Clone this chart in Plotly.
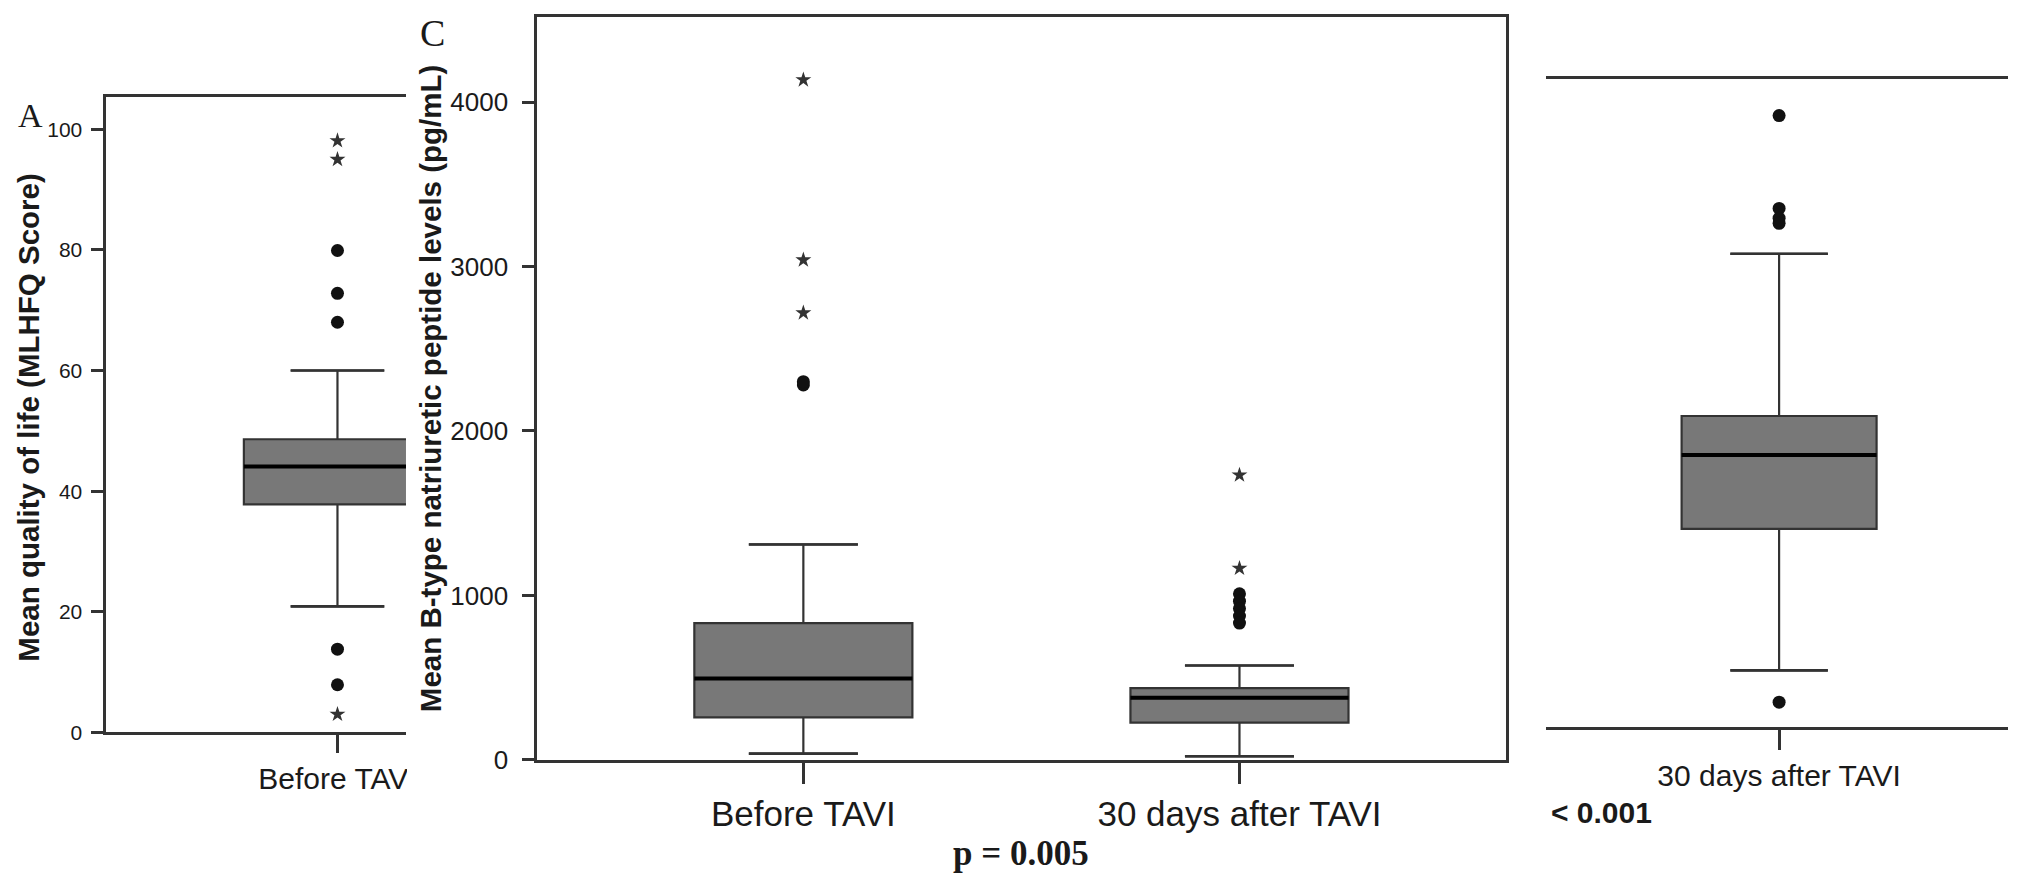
import plotly.graph_objects as go

W, H = 2018, 885

# ---------------- data ----------------
# Panel A: Mean quality of life (MLHFQ score)
a_categories = ["Before TAVI"]
a_q1 = [37.8]
a_median = [44.1]
a_q3 = [48.6]
a_lowerfence = [20.9]
a_upperfence = [60.0]
a_outliers_dot = [[79.9, 72.8, 68.0, 13.8, 7.9]]
a_outliers_star = [[98.1, 95.0, 3.0]]
a_yticks = [0, 20, 40, 60, 80, 100]

# Panel C: Mean B-type natriuretic peptide levels (pg/mL)
c_categories = ["Before TAVI", "30 days after TAVI"]
c_q1 = [258, 227]
c_median = [495, 378]
c_q3 = [832, 436]
c_lowerfence = [38, 22]
c_upperfence = [1310, 574]
c_outliers_dot = [[2280, 2300], [1010, 965, 920, 875, 832]]
c_outliers_star = [[4135, 3040, 2718], [1732, 1165]]
c_yticks = [0, 1000, 2000, 3000, 4000]

# Right (partially visible) panel: 30 days after TAVI, y scale not shown
b_categories = ["30 days after TAVI"]
b_q1 = [30.6]
b_median = [42.0]
b_q3 = [48.0]
b_lowerfence = [8.8]
b_upperfence = [73.0]
b_outliers_dot = [[94.3, 80.0, 78.5, 77.7, 3.9]]
b_outliers_star = [[]]

# ---------------- style ----------------
SANS = "Liberation Sans, Arial, Helvetica, sans-serif"
SERIF = "Liberation Serif, Times New Roman, serif"
LINE = "#333333"
TEXT = "#1a1a1a"
FILL = "#787878"
BOXW = 0.5


def px(x):
    return x / W


def py(y):
    return 1 - y / H


fig = go.Figure()


def add_panel(xa, ya, cats, q1, med, q3, lo, hi, dots, stars):
    for i, _ in enumerate(cats):
        fig.add_trace(go.Box(
            x=[i], q1=[q1[i]], median=[med[i]], q3=[q3[i]],
            lowerfence=[lo[i]], upperfence=[hi[i]],
            width=BOXW, fillcolor=FILL, boxpoints=False,
            line=dict(color=LINE, width=2.2),
            xaxis=xa, yaxis=ya, hoverinfo="skip"))
        # whisker caps
        for v in (lo[i], hi[i]):
            fig.add_trace(go.Scatter(
                x=[i - BOXW / 4, i + BOXW / 4], y=[v, v], mode="lines",
                line=dict(color=LINE, width=2.6), xaxis=xa, yaxis=ya,
                hoverinfo="skip"))
        # thick median
        fig.add_trace(go.Scatter(
            x=[i - BOXW / 2, i + BOXW / 2], y=[med[i], med[i]], mode="lines",
            line=dict(color="#000000", width=4), xaxis=xa, yaxis=ya,
            hoverinfo="skip"))
        if dots[i]:
            fig.add_trace(go.Scatter(
                x=[i] * len(dots[i]), y=dots[i], mode="markers",
                marker=dict(symbol="circle", size=13, color="#111111"),
                xaxis=xa, yaxis=ya, hoverinfo="skip"))
        if stars[i]:
            fig.add_trace(go.Scatter(
                x=[i] * len(stars[i]), y=stars[i], mode="markers",
                marker=dict(symbol="star", size=12, color="#333333"),
                xaxis=xa, yaxis=ya, hoverinfo="skip"))


add_panel("x", "y", a_categories, a_q1, a_median, a_q3, a_lowerfence,
          a_upperfence, a_outliers_dot, a_outliers_star)
add_panel("x2", "y2", c_categories, c_q1, c_median, c_q3, c_lowerfence,
          c_upperfence, c_outliers_dot, c_outliers_star)
add_panel("x3", "y3", b_categories, b_q1, b_median, b_q3, b_lowerfence,
          b_upperfence, b_outliers_dot, b_outliers_star)

common = dict(showgrid=False, zeroline=False, linecolor=LINE, tickcolor=LINE)

fig.update_layout(
    width=W, height=H,
    margin=dict(l=0, r=0, t=0, b=0),
    paper_bgcolor="white", plot_bgcolor="white",
    showlegend=False,
    # Panel A
    xaxis=dict(domain=[px(107), px(408)], range=[-0.617, 0.183], type="linear",
               tickvals=list(range(len(a_categories))), ticktext=a_categories,
               showline=True, mirror=True, linewidth=3, ticks="outside",
               ticklen=18, tickwidth=2.5,
               tickfont=dict(family=SANS, size=30, color=TEXT),
               anchor="y", **common),
    yaxis=dict(domain=[py(745), py(99)], range=[0, 105.3],
               tickvals=a_yticks, showline=True, linewidth=3,
               ticks="outside", ticklen=12, tickwidth=2.5, ticklabelstandoff=5,
               tickfont=dict(family=SANS, size=21, color=TEXT),
               anchor="x", **common),
    # Panel C
    xaxis2=dict(domain=[px(540), px(1513)], range=[-0.61, 1.61], type="linear",
                tickvals=list(range(len(c_categories))), ticktext=c_categories,
                showline=True, mirror=True, linewidth=3, ticks="outside",
                ticklen=21, tickwidth=2.5,
                tickfont=dict(family=SANS, size=35, color=TEXT),
                anchor="y2", **common),
    yaxis2=dict(domain=[py(773), py(17)], range=[0, 4519],
                tickvals=c_yticks, showline=True, mirror=True, linewidth=3,
                ticks="outside", ticklen=12, tickwidth=2.5, ticklabelstandoff=9,
                tickfont=dict(family=SANS, size=26, color=TEXT),
                anchor="x2", **common),
    # Right partial panel
    xaxis3=dict(domain=[px(1554), 1.0], range=[-0.597, 0.587], type="linear",
                tickvals=list(range(len(b_categories))), ticktext=b_categories,
                showline=True, mirror=True, linewidth=3, ticks="outside",
                ticklen=20, tickwidth=2.5,
                tickfont=dict(family=SANS, size=30, color=TEXT),
                anchor="y3", **common),
    yaxis3=dict(domain=[py(740), py(80)], range=[0, 100],
                showline=False, showticklabels=False, ticks="",
                anchor="x3", showgrid=False, zeroline=False),
)

# panel C's white card overlaps the right end of panel A's category label
fig.add_shape(type="rect", xref="paper", yref="paper", layer="above",
              x0=px(409), x1=px(475), y0=py(805), y1=py(752),
              fillcolor="white", line=dict(width=0))

ann = [
    dict(text="A", x=px(31), y=py(117), font=dict(family=SERIF, size=34, color=TEXT)),
    dict(text="C", x=px(435), y=py(34), font=dict(family=SERIF, size=38, color=TEXT)),
    dict(text="Mean quality of life (MLHFQ Score)", x=px(29), y=py(425), textangle=-90,
         font=dict(family=SANS, size=29.5, color=TEXT, weight="bold")),
    dict(text="Mean B-type natriuretic peptide levels (pg/mL)", x=px(432), y=py(395),
         textangle=-90, font=dict(family=SANS, size=29.5, color=TEXT, weight="bold")),
    dict(text="p = 0.005", x=px(1026), y=py(868),
         font=dict(family=SERIF, size=35, color=TEXT, weight="bold")),
    dict(text="< 0.001", x=px(1557), y=py(826), xanchor="left",
         font=dict(family=SANS, size=30, color=TEXT, weight="bold")),
]
for a in ann:
    a.setdefault("xanchor", "center")
    fig.add_annotation(xref="paper", yref="paper", yanchor="middle",
                       showarrow=False, **a)

fig.write_html("out.html")
